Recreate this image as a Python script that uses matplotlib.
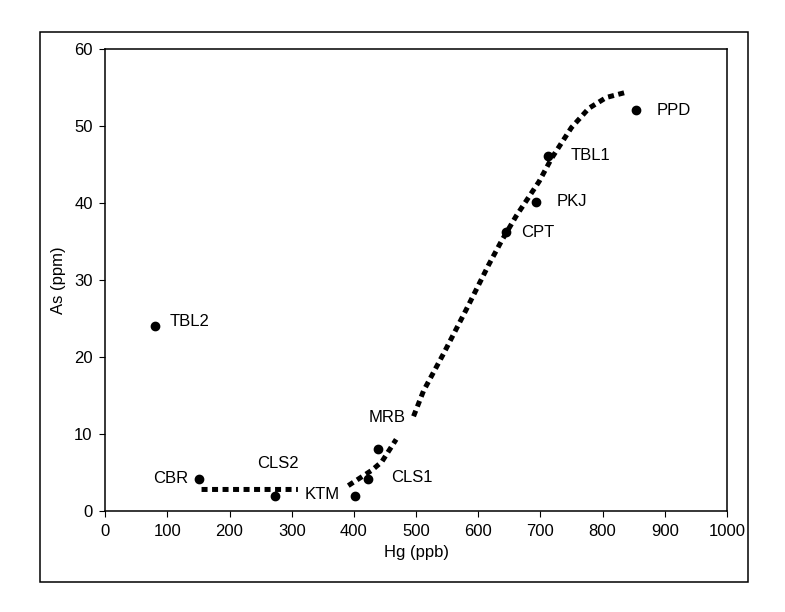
import numpy as np
import matplotlib
matplotlib.use("Agg")
import matplotlib.pyplot as plt
import matplotlib.patches as patches

plt.rcParams['font.family'] = ['Liberation Sans', 'DejaVu Sans']

# sample points
sitios = ["TBL2", "CBR", "CLS2", "KTM", "CLS1", "MRB", "CPT", "PKJ", "TBL1", "PPD"]
hg = [80, 151, 273, 402, 422, 438, 644, 693, 713, 853]
as_ppm = [24, 4.2, 2.0, 2.0, 4.2, 8.1, 36.2, 40.1, 46.1, 52.1]

# label anchor (x, y, alignment)
etiqueta_x = [104, 134, 278, 321, 460, 484, 669, 726, 748, 887]
etiqueta_y = [24.6, 4.2, 6.2, 2.2, 4.3, 12.1, 36.2, 40.2, 46.2, 52.0]
etiqueta_ha = ["left", "right", "center", "left", "left", "right", "left", "left", "left", "left"]

# trend line (nan = gap behind labels)
trend_x = [155, 230, 310, np.nan, 391, 410, 429, 445, 468, np.nan, 496, 512, 544,
           581, 617, 637, 661, 698, 718, 750, 778, 806, 839]
trend_y = [2.8, 2.8, 2.8, np.nan, 3.3, 4.3, 5.3, 6.4, 9.3, np.nan, 12.3, 15.6, 20.4,
           26.2, 32.0, 35.0, 38.3, 42.8, 45.8, 49.8, 52.3, 53.7, 54.4]

fig = plt.figure(figsize=(7.85, 6.12), dpi=100)

# outer frame
fig.patches.append(patches.Rectangle((0.051, 0.049), 0.902, 0.899, transform=fig.transFigure,
                                     fill=False, edgecolor="black", linewidth=1.1))

ax = fig.add_axes([0.134, 0.165, 0.792, 0.755])

ax.plot(trend_x, trend_y, color="black", linewidth=3.6, linestyle=(0, (1.2, 0.9)),
        dash_capstyle="butt", zorder=2)
ax.plot(hg, as_ppm, "o", color="black", markersize=6, zorder=3)

for i in range(len(sitios)):
    ax.text(etiqueta_x[i], etiqueta_y[i], sitios[i], ha=etiqueta_ha[i], va="center", fontsize=12)

ax.set_xlim(0, 1000)
ax.set_ylim(0, 60)
ax.set_xticks(range(0, 1001, 100))
ax.set_yticks(range(0, 61, 10))
ax.tick_params(direction="out", length=4, pad=5, labelsize=12, top=False, right=False)
ax.set_xlabel("Hg (ppb)", fontsize=12, labelpad=5)
ax.set_ylabel("As (ppm)", fontsize=12, labelpad=6)
for s in ax.spines.values():
    s.set_linewidth(1.1)

plt.savefig("out.png", dpi=100)
